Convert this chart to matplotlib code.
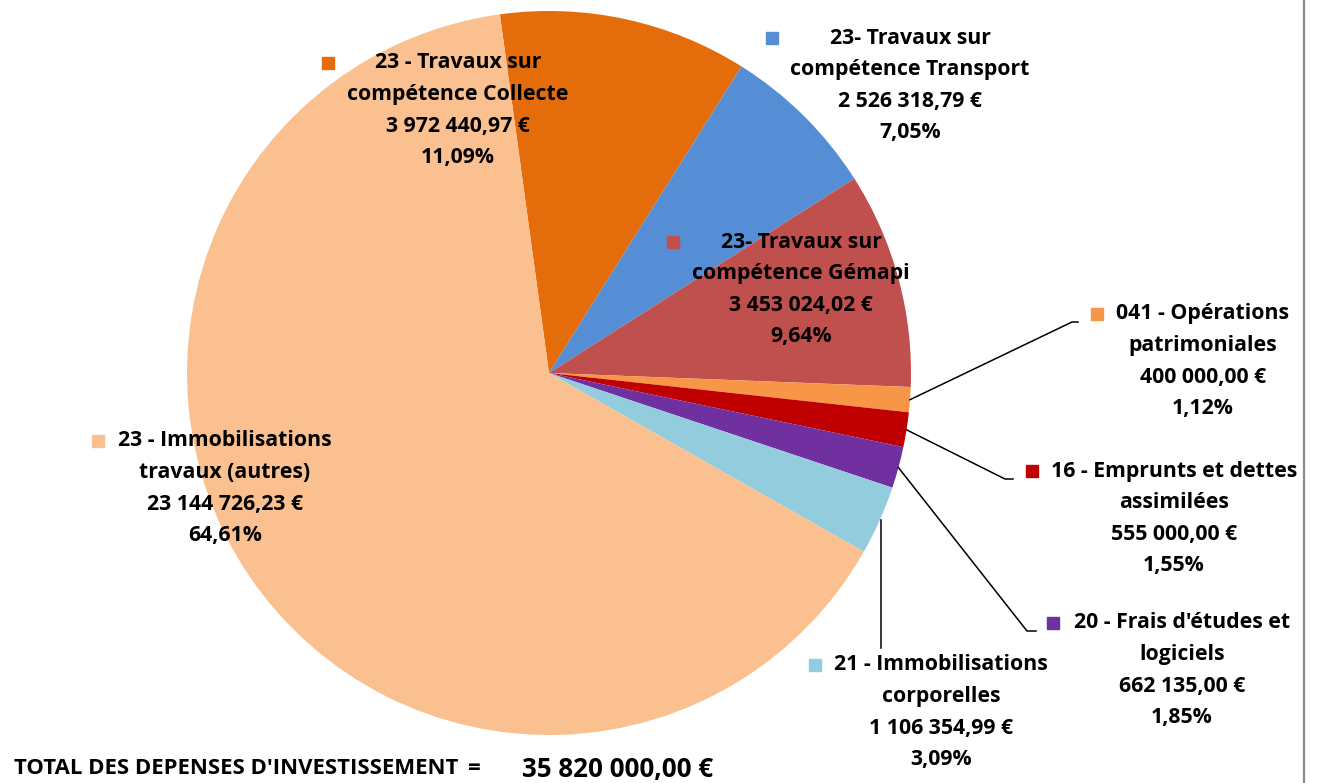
import numpy as np
import matplotlib
matplotlib.use("Agg")
import matplotlib.pyplot as plt

# Dépenses d'investissement par chapitre
labels = [
    ["23 - Travaux sur", "compétence Collecte"],
    ["23- Travaux sur", "compétence Transport"],
    ["23- Travaux sur", "compétence Gémapi"],
    ["041 - Opérations", "patrimoniales"],
    ["16 - Emprunts et dettes", "assimilées"],
    ["20 - Frais d'études et", "logiciels"],
    ["21 - Immobilisations", "corporelles"],
    ["23 - Immobilisations", "travaux (autres)"],
]
amounts = [3972440.97, 2526318.79, 3453024.02, 400000.00,
           555000.00, 662135.00, 1106354.99, 23144726.23]
colors = ["#E46C0A", "#558ED5", "#C0504D", "#F79646",
          "#C00000", "#7030A0", "#93CDDD", "#FAC090"]
total_label = "35 820 000,00 €"

# label layout in pixels (x center of text, y of first line, marker x)
label_pos = [
    (458, 63, 328),
    (910, 38, 772),
    (801, 242, 673),
    (1203, 314, 1097),
    (1174, 471, 1032),
    (1182, 623, 1053),
    (941, 665, 815),
    (225, 441, 98),
]
# leader line ends (pixels) for the small slices
leaders = {3: [(1072, 322), (1078, 322)],
           4: [(1005, 479), (1013, 479)],
           5: [(1027, 631), (1036, 631)],
           6: [(881, 648)]}

W, H = 1317, 783
FONT = "Open Sans"
WEIGHT = "bold"
FS = 15.3
STEP = 31.6


def fmt_eur(v):
    s = f"{v:,.2f}".replace(",", " ").replace(".", ",")
    return s + " €"


def py(y):
    return H - y


fig = plt.figure(figsize=(W / 100, H / 100), dpi=100)
ax = fig.add_axes([0, 0, 1, 1])

cx, cy, r = 549, 373, 362
start = 97.8
ax.pie(amounts, colors=colors, startangle=start, counterclock=False,
       center=(cx, py(cy)), radius=r, frame=True,
       wedgeprops=dict(linewidth=0))

total = sum(amounts)
pcts = [a / total * 100 for a in amounts]
cum = np.cumsum([0] + pcts)

for i, (lines, a, p) in enumerate(zip(labels, amounts, pcts)):
    tx, ty, mx = label_pos[i]
    txt = lines + [fmt_eur(a), f"{p:.2f}%".replace(".", ",")]
    for k, t in enumerate(txt):
        ax.text(tx, py(ty + k * STEP), t, ha="center", va="center",
                fontsize=FS, fontweight=WEIGHT, family=FONT, color="black")
    ax.plot([mx], [py(ty)], marker="s", markersize=9.3, color=colors[i],
            linestyle="none")
    if i in leaders:
        mid = (cum[i] + cum[i + 1]) / 2
        ang = np.deg2rad(start - mid * 3.6)
        x0 = cx + r * np.cos(ang)
        y0 = py(cy) + r * np.sin(ang)
        pts = leaders[i]
        xs = [x0] + [p_[0] for p_ in pts]
        ys = [y0] + [py(p_[1]) for p_ in pts]
        if i == 6:
            xs = [pts[0][0], pts[0][0]]
            ys = [y0, py(pts[0][1])]
        ax.plot(xs, ys, color="black", linewidth=1.1)

ax.text(14, py(769), "TOTAL DES DEPENSES D'INVESTISSEMENT", ha="left",
        va="center", fontsize=15.9, fontweight=WEIGHT, family=FONT)
ax.text(468, py(769), "=", ha="left", va="center",
        fontsize=15.9, fontweight=WEIGHT, family=FONT)
ax.text(522, py(769), total_label, ha="left", va="center",
        fontsize=18.7, fontweight=WEIGHT, family=FONT)

ax.plot([1304, 1304], [0, H], color="#8C8C8C", linewidth=1.6)

ax.set_xlim(0, W)
ax.set_ylim(0, H)
ax.set_aspect("equal")
ax.axis("off")

fig.savefig("out.png", dpi=100)
